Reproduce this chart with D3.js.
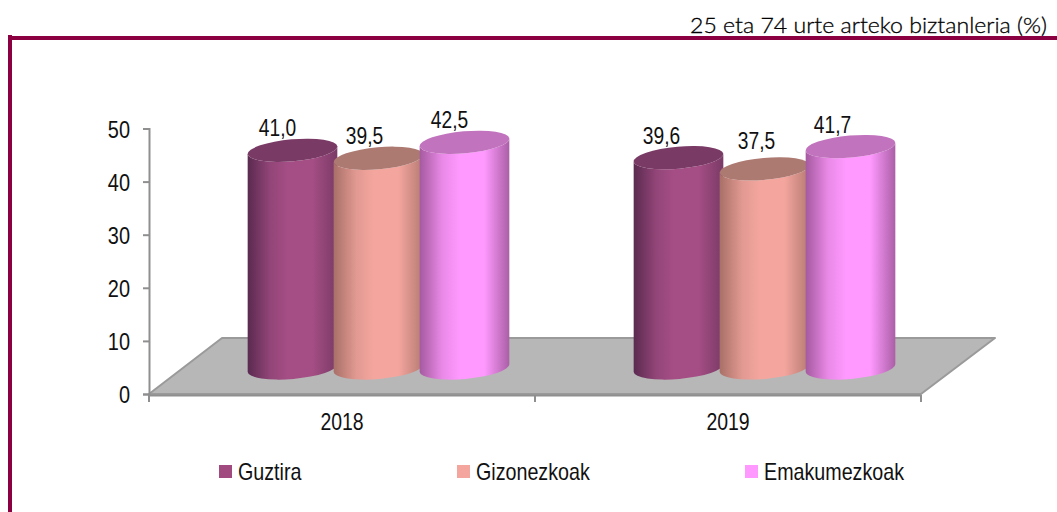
<!DOCTYPE html>
<html>
<head>
<meta charset="utf-8">
<script src="https://cdn.jsdelivr.net/npm/d3@7"></script>
<style>
  html, body { margin: 0; padding: 0; background: #fff; overflow: hidden; }
  svg { display: block; }
  text { font-family: "Liberation Sans", Arial, sans-serif; fill: #111; }
</style>
</head>
<body>
<svg id="chart"></svg>
<script>
// Data
const years = ["2018", "2019"];
const seriesNames = ["Guztira", "Gizonezkoak", "Emakumezkoak"];
const guztira = [41.0, 39.6];
const gizonezkoak = [39.5, 37.5];
const emakumezkoak = [42.5, 41.7];
const yTicks = [0, 10, 20, 30, 40, 50];
const titleText = "25 eta 74 urte arteko biztanleria (%)";

const allValues = [guztira, gizonezkoak, emakumezkoak];

// Colours per series: left edge, highlight, right edge, top cap, legend
const edgeLeft = ["#5a2a50", "#a87068", "#a55a9f"];
const highlight = ["#a54e85", "#f4a69e", "#ff99ff"];
const edgeRight = ["#7a3a66", "#b57a72", "#aa5fa6"];
const capColor = ["#7a3a66", "#ad7a72", "#c173bd"];
const legendColor = ["#a04a80", "#f4a59e", "#ff99ff"];

const width = 1057, height = 512;
const frameColor = "#8a0040";
const axisColor = "#8f8f8f";

const svg = d3.select("#chart").attr("width", width).attr("height", height);

// Scales
const yScale = d3.scaleLinear().domain([0, 50]).range([394, 128.5]);
const xScale = d3.scaleBand().domain(years).range([149, 921]);
const innerScale = d3.scalePoint().domain(seriesNames)
    .range([xScale.bandwidth() / 2 - 86, xScale.bandwidth() / 2 + 86]);

// 3D look: how far the floor goes back, and the cylinder shape
const depthX = 73, depthY = -56;
const rx = 45, ry = 11, tilt = -5;
const baseY = yScale(0) + depthY / 2 + 2;

// Squeeze text sideways, the source font is narrower than Liberation Sans
function squeeze(sel, k) {
    sel.each(function() {
        const t = d3.select(this);
        t.attr("textLength", this.getComputedTextLength() * k)
         .attr("lengthAdjust", "spacingAndGlyphs");
    });
}

// Gradients
const defs = svg.append("defs");
seriesNames.forEach((name, i) => {
    const g = defs.append("linearGradient").attr("id", "grad" + i)
        .attr("x1", 0).attr("x2", 1).attr("y1", 0).attr("y2", 0);
    g.append("stop").attr("offset", "0%").attr("stop-color", edgeLeft[i]);
    g.append("stop").attr("offset", "25%").attr("stop-color", d3.interpolateRgb(edgeLeft[i], highlight[i])(0.75));
    g.append("stop").attr("offset", "45%").attr("stop-color", highlight[i]);
    g.append("stop").attr("offset", "72%").attr("stop-color", highlight[i]);
    g.append("stop").attr("offset", "100%").attr("stop-color", edgeRight[i]);
});

// Frame
svg.append("rect").attr("x", 8).attr("y", 36).attr("width", width - 8).attr("height", 4).attr("fill", frameColor);
svg.append("rect").attr("x", 8).attr("y", 35).attr("width", 4).attr("height", height - 35).attr("fill", frameColor);

// Title
svg.append("text")
    .attr("x", 690).attr("y", 33)
    .style("font-family", "Lato, 'Open Sans', sans-serif")
    .style("font-weight", 300)
    .style("font-size", "21px")
    .style("fill", "#000")
    .style("stroke", "#000")
    .style("stroke-width", 0.3)
    .attr("textLength", 357)
    .attr("lengthAdjust", "spacingAndGlyphs")
    .text(titleText);

// Floor
const x0 = xScale.range()[0], x1 = xScale.range()[1], y0 = yScale(0);
svg.append("path")
    .attr("d", `M${x0},${y0}L${x0 + depthX},${y0 + depthY}L${x1 + depthX + 1},${y0 + depthY}L${x1},${y0}Z`)
    .attr("fill", "#b7b7b7")
    .attr("stroke", "#9a9a9a")
    .attr("stroke-width", 2)
    .attr("stroke-linejoin", "round");

// Axes
const yAxis = svg.append("g")
    .attr("transform", `translate(${x0},0)`)
    .call(d3.axisLeft(yScale).tickValues(yTicks).tickSize(6).tickPadding(13));
const xAxis = svg.append("g")
    .attr("transform", `translate(0,${y0 + 1})`)
    .call(d3.axisBottom(xScale).tickSize(0).tickPadding(18));

[yAxis, xAxis].forEach(a => {
    a.select(".domain").attr("stroke", axisColor).attr("stroke-width", 2);
    a.selectAll("line").attr("stroke", axisColor).attr("stroke-width", 2);
});
yAxis.selectAll("text").style("font-size", "24px").attr("y", 1).call(squeeze, 0.83);
xAxis.selectAll("text").style("font-size", "24px").call(squeeze, 0.81);

// Category separators under the x axis
svg.append("g").selectAll("line")
    .data([...years.map(y => xScale(y)), x1])
    .join("line")
    .attr("x1", d => d).attr("x2", d => d)
    .attr("y1", y0 + 1).attr("y2", y0 + 8)
    .attr("stroke", axisColor).attr("stroke-width", 2);

// Manual nudges for the value labels, as placed in the source chart
const labelDx = [[-15, -14, -15], [-17, -8, -18]];
const labelDy = [[-14, -14, -14], [-14, -20, -14]];

// Cylinders
years.forEach((year, yi) => {
    seriesNames.forEach((name, si) => {
        const cx = xScale(year) + innerScale(name) + depthX / 2;
        const v = allValues[si][yi];
        const top = baseY - (yScale(0) - yScale(v));
        const dxe = rx * Math.cos(tilt * Math.PI / 180);
        const dye = rx * Math.sin(tilt * Math.PI / 180);
        const g = svg.append("g");

        g.append("path")
            .attr("d", `M${cx - dxe},${top - dye}L${cx - dxe},${baseY - dye}` +
                `A${rx},${ry} ${tilt} 0 0 ${cx + dxe},${baseY + dye}` +
                `L${cx + dxe},${top + dye}` +
                `A${rx},${ry} ${tilt} 0 1 ${cx - dxe},${top - dye}Z`)
            .attr("fill", `url(#grad${si})`);

        g.append("ellipse")
            .attr("rx", rx).attr("ry", ry)
            .attr("transform", `translate(${cx},${top}) rotate(${tilt})`)
            .attr("fill", capColor[si]);

        svg.append("text")
            .attr("class", "value")
            .attr("x", cx + labelDx[yi][si])
            .attr("y", top + labelDy[yi][si])
            .attr("text-anchor", "middle")
            .style("font-size", "24px")
            .text(d3.format(".1f")(v).replace(".", ","))
            .call(squeeze, 0.8);
    });
});
// labels go above all the cylinders
svg.selectAll("text.value").raise();

// Legend
const legendX = d3.scaleOrdinal().domain(seriesNames).range([219, 457, 745]);
const legend = svg.append("g").selectAll("g").data(seriesNames).join("g")
    .attr("transform", d => `translate(${legendX(d)},465)`);
legend.append("rect").attr("width", 13).attr("height", 13)
    .attr("fill", (d, i) => legendColor[i]);
legend.append("text").attr("x", 19).attr("y", 15)
    .style("font-size", "24px")
    .text(d => d)
    .call(squeeze, 0.82);
</script>
</body>
</html>
